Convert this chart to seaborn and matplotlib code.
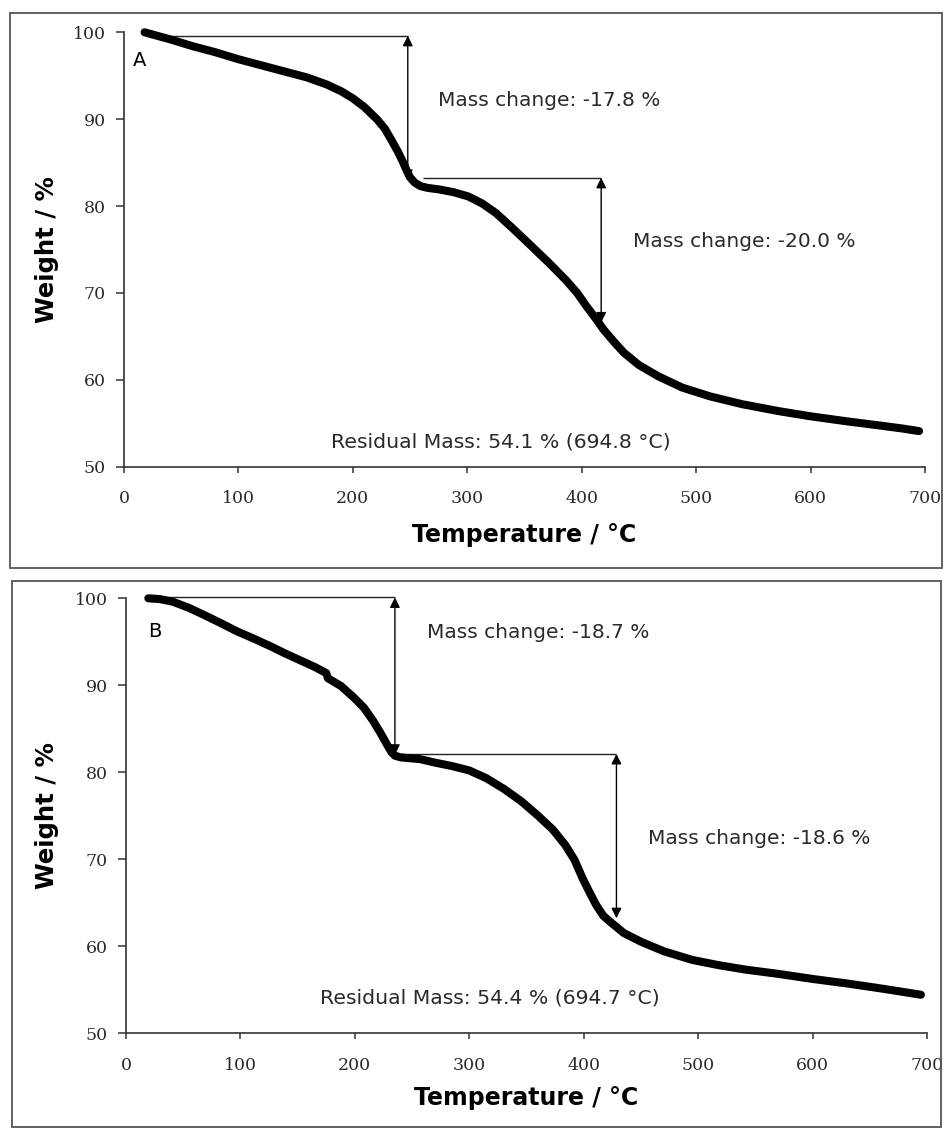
import matplotlib
matplotlib.use("Agg")
import matplotlib.pyplot as plt
from matplotlib.patches import Rectangle
import seaborn as sns

# Thermogravimetric curves (temperature in °C, remaining weight in %)
temp_a = [18, 40, 60, 80, 100, 120, 140, 160, 177, 190, 200, 210, 221, 228,
          235, 240, 244, 247, 250, 254, 259, 265, 276, 288, 301, 313, 325,
          340, 356, 371, 386, 396, 404, 412, 419, 428, 437, 450, 467, 488,
          512, 540, 572, 600, 633, 660, 680, 694.8]
weight_a = [100.0, 99.2, 98.4, 97.7, 96.9, 96.2, 95.5, 94.8, 94.0, 93.2, 92.4,
            91.4, 90.0, 88.9, 87.3, 86.1, 85.0, 84.1, 83.3, 82.7, 82.3, 82.1,
            81.9, 81.6, 81.1, 80.3, 79.2, 77.4, 75.4, 73.5, 71.5, 70.0, 68.5,
            67.1, 65.8, 64.4, 63.1, 61.7, 60.4, 59.1, 58.1, 57.2, 56.4, 55.8,
            55.2, 54.75, 54.4, 54.1]

temp_b = [19.5, 30, 41, 55, 68, 82, 97, 111, 126, 140, 155, 165, 175, 176.5,
          188, 199, 208, 216, 222, 228, 232, 235, 240, 257, 270, 285, 300,
          315, 330, 345, 360, 373, 384, 392, 399, 405, 411, 417, 423, 435,
          450, 470, 495, 518, 541, 570, 601, 630, 661, 694.7]
weight_b = [100.0, 99.9, 99.6, 98.9, 98.1, 97.2, 96.2, 95.4, 94.5, 93.6, 92.7,
            92.1, 91.4, 90.8, 89.9, 88.6, 87.4, 85.9, 84.6, 83.2, 82.3, 81.9,
            81.7, 81.5, 81.1, 80.7, 80.2, 79.3, 78.1, 76.7, 75.0, 73.4, 71.6,
            69.9, 67.8, 66.2, 64.7, 63.5, 62.8, 61.5, 60.5, 59.4, 58.4, 57.8,
            57.3, 56.8, 56.2, 55.7, 55.1, 54.4]

mass_change_a = ["-17.8", "-20.0"]
mass_change_b = ["-18.7", "-18.6"]
residual_a = ("54.1", "694.8")
residual_b = ("54.4", "694.7")

x_ticks = [0, 100, 200, 300, 400, 500, 600, 700]
y_ticks = [50, 60, 70, 80, 90, 100]

sns.set_theme(style="white")
plt.rcParams["font.family"] = ["DejaVu Sans"]

FIG_W, FIG_H = 945, 1129
fig = plt.figure(figsize=(FIG_W / 100, FIG_H / 100), dpi=100)


def px_box(left, top, right, bottom):
    return [left / FIG_W, 1 - bottom / FIG_H, (right - left) / FIG_W, (bottom - top) / FIG_H]


# panel frames
for l, t, r, b in [(10, 13, 942, 568), (12, 581, 941, 1127)]:
    fig.add_artist(Rectangle((l / FIG_W, 1 - b / FIG_H), (r - l) / FIG_W, (b - t) / FIG_H,
                             transform=fig.transFigure, fill=False,
                             edgecolor="#555555", linewidth=1.3))

ax_a = fig.add_axes(px_box(124, 32.3, 925, 466.7))
ax_b = fig.add_axes(px_box(126, 598.3, 927, 1033))

TEXT_COLOR = "#2a2a2a"


def style_axes(ax, xlabel_y, ylabel_x):
    ax.set_xlim(0, 700)
    ax.set_ylim(50, 100)
    ax.set_xticks(x_ticks)
    ax.set_yticks(y_ticks)
    ax.set_xticklabels([str(v) for v in x_ticks])
    ax.set_yticklabels([str(v) for v in y_ticks])
    for side in ["top", "right"]:
        ax.spines[side].set_visible(False)
    for side in ["left", "bottom"]:
        ax.spines[side].set_color("#333333")
        ax.spines[side].set_linewidth(1.2)
    ax.tick_params(axis="y", left=True, direction="out", length=6, width=1.1,
                   color="#333333", pad=7, labelsize=12.5, labelcolor=TEXT_COLOR)
    ax.tick_params(axis="x", bottom=True, direction="out", length=4, width=1.1,
                   color="#333333", pad=13, labelsize=12.5, labelcolor=TEXT_COLOR)
    for lab in ax.get_xticklabels() + ax.get_yticklabels():
        lab.set_fontfamily("DejaVu Serif")
    ax.set_xlabel("Temperature / °C", fontsize=17, fontweight="bold", color="black")
    ax.set_ylabel("Weight / %", fontsize=17.5, fontweight="bold", color="black")
    ax.xaxis.set_label_coords(0.5, xlabel_y)
    ax.xaxis.label.set_va("center")
    ax.yaxis.set_label_coords(ylabel_x, 0.5)
    ax.yaxis.label.set_va("center")
    ax.set_facecolor("white")
    ax.grid(False)


def draw_step(ax, x_start, x_arrow, y_top, y_bottom):
    ax.plot([x_start, x_arrow], [y_top, y_top], color="#222222", linewidth=1.0,
            solid_capstyle="butt", zorder=2, clip_on=False)
    ax.annotate("", xy=(x_arrow, y_bottom), xytext=(x_arrow, y_top),
                arrowprops=dict(arrowstyle="<|-|>", color="black", lw=1.0,
                                mutation_scale=15, shrinkA=0, shrinkB=0),
                zorder=2, annotation_clip=False)


def draw_curve(ax, temps, weights):
    sns.lineplot(x=temps, y=weights, ax=ax, color="black", linewidth=5.8,
                 sort=False, estimator=None, solid_capstyle="round",
                 solid_joinstyle="round", zorder=3, clip_on=False)


# ---- panel A ----
draw_curve(ax_a, temp_a, weight_a)
draw_step(ax_a, 22, 248, 99.6, 83.0)
draw_step(ax_a, 261, 417, 83.25, 66.6)
ax_a.text(274.5, 92.1, f"Mass change: {mass_change_a[0]} %", fontsize=14.5,
          color=TEXT_COLOR, ha="left", va="center")
ax_a.text(444.5, 75.96, f"Mass change: {mass_change_a[1]} %", fontsize=14.5,
          color=TEXT_COLOR, ha="left", va="center")
ax_a.text(329, 52.9, f"Residual Mass: {residual_a[0]} % ({residual_a[1]} °C)",
          fontsize=14.7, color=TEXT_COLOR, ha="center", va="center")
ax_a.text(7.3, 96.7, "A", fontsize=14, color="black", ha="left", va="center")
style_axes(ax_a, -0.157, -0.096)

# ---- panel B ----
draw_curve(ax_b, temp_b, weight_b)
draw_step(ax_b, 22, 235, 100.1, 82.0)
draw_step(ax_b, 240, 428.6, 82.1, 63.2)
ax_b.text(263, 96.1, f"Mass change: {mass_change_b[0]} %", fontsize=14.5,
          color=TEXT_COLOR, ha="left", va="center")
ax_b.text(456, 72.4, f"Mass change: {mass_change_b[1]} %", fontsize=14.5,
          color=TEXT_COLOR, ha="left", va="center")
ax_b.text(318, 54.0, f"Residual Mass: {residual_b[0]} % ({residual_b[1]} °C)",
          fontsize=14.7, color=TEXT_COLOR, ha="center", va="center")
ax_b.text(19.5, 96.2, "B", fontsize=14, color="black", ha="left", va="center")
style_axes(ax_b, -0.1495, -0.0986)

fig.savefig("out.png", dpi=100, facecolor="white")
